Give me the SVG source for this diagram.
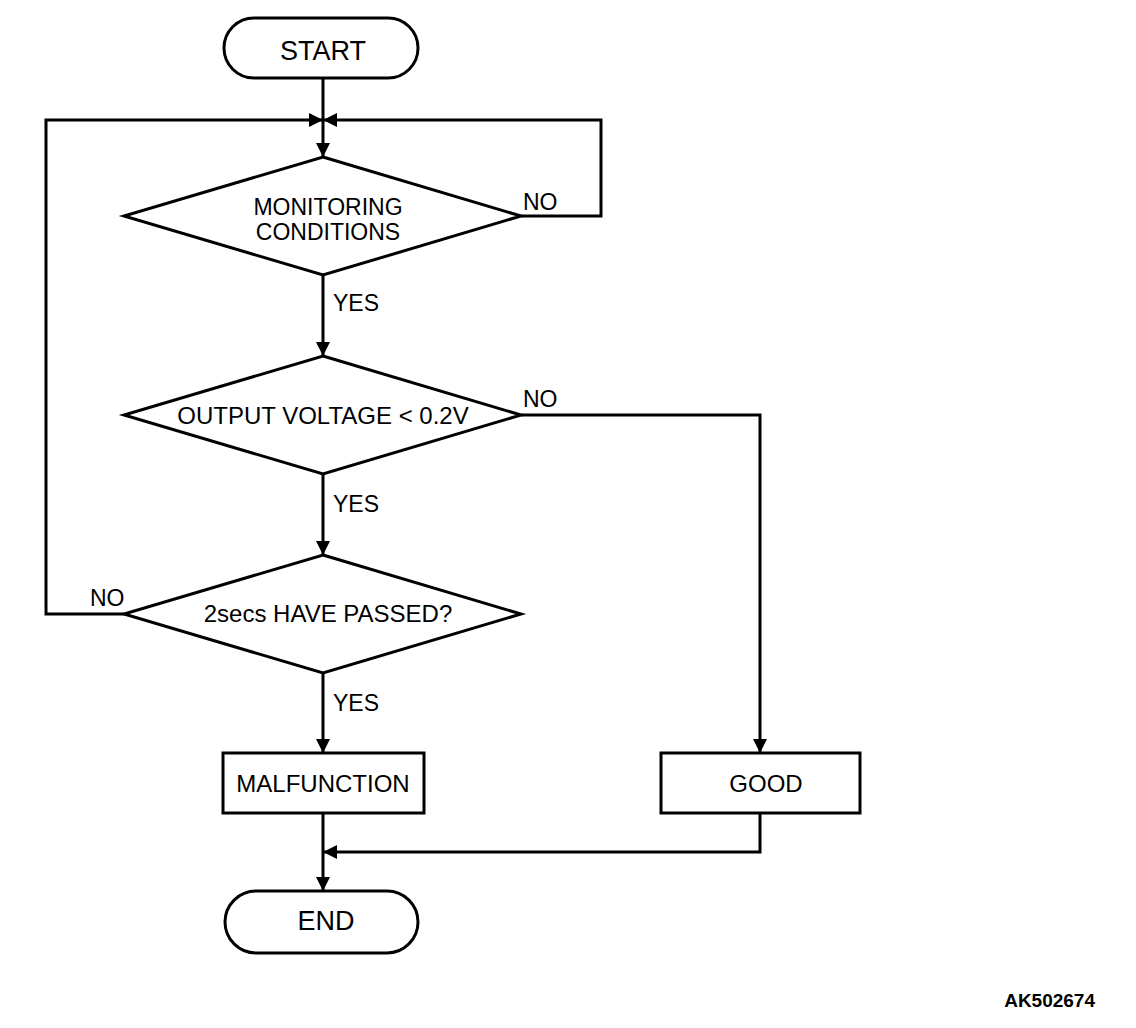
<svg xmlns="http://www.w3.org/2000/svg" width="1136" height="1028" viewBox="0 0 1136 1028">
<style>
.s{fill:#fff;stroke:#000;stroke-width:3}
.c{fill:none;stroke:#000;stroke-width:3}
text{font-family:"Liberation Sans",Arial,sans-serif;fill:#000}
.t{font-size:24px;text-anchor:middle}
.m{font-size:23px;text-anchor:middle}
.b{font-size:27px;text-anchor:middle}
.l{font-size:23px}
</style>
<defs>
<marker id="a" markerUnits="userSpaceOnUse" markerWidth="16" markerHeight="14" refX="14" refY="7" orient="auto">
<path d="M0,0 L14,7 L0,14 Z" fill="#000"/>
</marker>
</defs>
<rect width="1136" height="1028" fill="#fff"/>
<g id="connectors">
<path class="c" d="M323,78 V157" marker-end="url(#a)"/>
<path class="c" d="M521,216 H601 V120 H323" marker-end="url(#a)"/>
<path class="c" d="M124,614 H46 V120 H323" marker-end="url(#a)"/>
<path class="c" d="M323,275 V356" marker-end="url(#a)"/>
<path class="c" d="M323,474 V555" marker-end="url(#a)"/>
<path class="c" d="M323,673 V753" marker-end="url(#a)"/>
<path class="c" d="M521,415 H760 V753" marker-end="url(#a)"/>
<path class="c" d="M323,813 V891" marker-end="url(#a)"/>
<path class="c" d="M760,813 V852 H323" marker-end="url(#a)"/>
<text class="l" x="523" y="210">NO</text>
<text class="l" x="333" y="311">YES</text>
<text class="l" x="523" y="407">NO</text>
<text class="l" x="333" y="512">YES</text>
<text class="l" x="90" y="606">NO</text>
<text class="l" x="333" y="711">YES</text>
</g>
<g id="start">
<rect class="s" x="224" y="18" width="194" height="60" rx="30"/>
<text class="b" x="323" y="60">START</text>
</g>
<g id="monitoring">
<polygon class="s" points="323,157 521,216 323,275 124,216"/>
<text class="m" x="328" y="215">MONITORING</text>
<text class="m" x="328" y="240">CONDITIONS</text>
</g>
<g id="voltage">
<polygon class="s" points="323,356 521,415 323,474 124,415"/>
<text class="t" x="323" y="424">OUTPUT VOLTAGE &lt; 0.2V</text>
</g>
<g id="passed">
<polygon class="s" points="323,555 521,614 323,673 124,614"/>
<text class="t" x="328" y="622">2secs HAVE PASSED?</text>
</g>
<g id="malfunction">
<rect class="s" x="223" y="753" width="201" height="60"/>
<text class="t" x="323" y="792">MALFUNCTION</text>
</g>
<g id="good">
<rect class="s" x="661" y="753" width="199" height="60"/>
<text class="t" x="766" y="792">GOOD</text>
</g>
<g id="end">
<rect class="s" x="225" y="891" width="193" height="62" rx="31"/>
<text class="b" x="326" y="930">END</text>
</g>
<text x="1095" y="1007" font-size="19" font-weight="bold" text-anchor="end">AK502674</text>
</svg>
